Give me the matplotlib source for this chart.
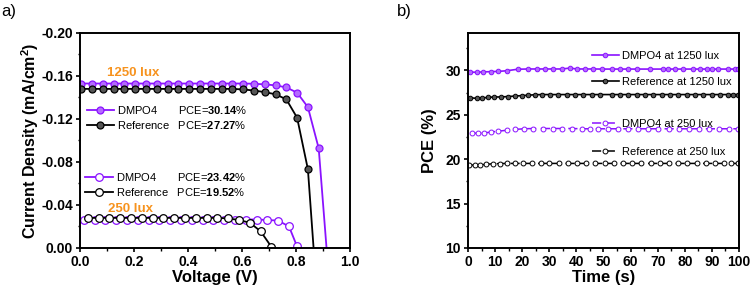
import matplotlib
matplotlib.use("Agg")
import matplotlib.pyplot as plt
from matplotlib.ticker import MultipleLocator

plt.rcParams['font.family'] = ['Liberation Sans', 'DejaVu Sans']
plt.rcParams['mathtext.fontset'] = 'custom'
plt.rcParams['mathtext.rm'] = 'Liberation Sans'
plt.rcParams['mathtext.bf'] = 'Liberation Sans:bold'
plt.rcParams['mathtext.it'] = 'Liberation Sans:italic'
plt.rcParams['axes.unicode_minus'] = False

PURPLE = '#8A12FF'
ORANGE = '#F7931E'

# ---- panel a: J-V curves ----
v_dmpo_1250 = [0.004, 0.044, 0.084, 0.124, 0.164, 0.204, 0.244, 0.284, 0.324, 0.364, 0.404, 0.444,
               0.484, 0.524, 0.564, 0.604, 0.644, 0.684, 0.724, 0.764, 0.804, 0.844, 0.884, 0.913]
j_dmpo_1250 = [-0.153, -0.153, -0.153, -0.153, -0.153, -0.153, -0.153, -0.153, -0.153, -0.153, -0.153, -0.153,
               -0.153, -0.153, -0.153, -0.153, -0.1528, -0.1522, -0.1513, -0.1494, -0.1445, -0.131, -0.0927, 0.0]
v_ref_1250 = [0.004, 0.044, 0.084, 0.124, 0.164, 0.204, 0.244, 0.284, 0.324, 0.364, 0.404, 0.444,
              0.484, 0.524, 0.564, 0.604, 0.644, 0.684, 0.724, 0.764, 0.804, 0.844, 0.865]
j_ref_1250 = [-0.148, -0.148, -0.148, -0.148, -0.148, -0.148, -0.148, -0.148, -0.148, -0.148, -0.148, -0.148,
              -0.148, -0.148, -0.148, -0.1475, -0.1465, -0.145, -0.143, -0.1383, -0.1212, -0.0732, 0.0]
v_dmpo_250 = [0.014, 0.054, 0.094, 0.134, 0.174, 0.214, 0.254, 0.294, 0.334, 0.374, 0.414, 0.454,
              0.494, 0.534, 0.574, 0.614, 0.654, 0.694, 0.734, 0.774, 0.803]
j_dmpo_250 = [-0.0265, -0.0265, -0.0265, -0.0265, -0.0265, -0.0265, -0.0265, -0.0265, -0.0265, -0.0265,
              -0.0265, -0.0265, -0.0265, -0.0265, -0.0265, -0.0265, -0.0265, -0.026, -0.0255, -0.020, -0.002]
v_ref_250 = [0.029, 0.069, 0.109, 0.149, 0.189, 0.229, 0.269, 0.309, 0.349, 0.389, 0.429, 0.469,
             0.509, 0.549, 0.589, 0.629, 0.669, 0.709]
j_ref_250 = [-0.028, -0.028, -0.028, -0.028, -0.028, -0.028, -0.028, -0.028, -0.028, -0.028, -0.028, -0.028,
             -0.028, -0.0275, -0.026, -0.0235, -0.0155, -0.001]

pce_a = ['30.14', '27.27', '23.42', '19.52']

# ---- panel b: PCE stability ----
t_dmpo_1250 = [0.7, 3.2, 5.6, 8.5, 11.2, 14.3, 18.3, 22.3, 25.3, 28.4, 31.4, 34.6, 37.6, 40.2, 43.0, 46.3, 49.4,
               53.0, 56.1, 59.2, 62.2, 67.2, 72.1, 73.9, 76.4, 79.4, 83.1, 85.6, 88.1, 89.9, 92.4, 96.1, 98.6, 99.6]
p_dmpo_1250 = [29.8, 29.78, 29.82, 29.85, 29.88, 29.95, 30.12, 30.15, 30.15, 30.15, 30.15, 30.15, 30.25, 30.15,
               30.15, 30.15, 30.14, 30.14, 30.14, 30.14, 30.14, 30.14, 30.14, 30.14, 30.14, 30.14, 30.14, 30.14,
               30.14, 30.14, 30.14, 30.14, 30.14, 30.14]
t_ref_1250 = [0.7, 3.2, 5.1, 7.3, 9.7, 12.2, 14.9, 17.3, 19.8, 22.3, 24.7, 27.4, 30.3, 33.3, 36.4, 39.5, 42.5,
              45.6, 48.7, 53.0, 56.1, 59.2, 62.2, 65.3, 68.4, 71.5, 74.5, 77.6, 80.7, 83.8, 86.8, 89.9, 93.0,
              96.1, 97.9, 99.7]
p_ref_1250 = [26.9, 26.85, 26.88, 26.95, 27.0, 27.0, 27.05, 27.1, 27.15, 27.2, 27.25, 27.27, 27.27, 27.27, 27.27,
              27.27, 27.27, 27.27, 27.27, 27.27, 27.27, 27.27, 27.27, 27.27, 27.27, 27.27, 27.27, 27.27, 27.27,
              27.27, 27.27, 27.27, 27.27, 27.27, 27.27, 27.27]
t_dmpo_250 = [1.6, 3.8, 6.0, 8.5, 11.2, 14.3, 17.3, 20.8, 24.1, 27.8, 31.5, 34.6, 38.3, 42.0, 45.0, 48.1,
              51.8, 55.5, 59.2, 62.9, 66.6, 70.3, 74.0, 77.7, 81.4, 85.1, 88.8, 92.5, 96.2, 99.6]
p_dmpo_250 = [22.95, 22.9, 22.95, 23.05, 23.15, 23.25, 23.35, 23.42, 23.45, 23.45, 23.45, 23.45, 23.45, 23.42,
              23.42, 23.42, 23.42, 23.42, 23.42, 23.42, 23.42, 23.42, 23.42, 23.42, 23.42, 23.42, 23.42, 23.42,
              23.42, 23.42]
t_ref_250 = [0.5, 2.5, 4.6, 6.8, 9.3, 11.8, 14.3, 17.3, 20.3, 23.5, 26.8, 30.0, 33.4, 36.8, 40.2, 43.6, 47.0,
             50.4, 53.8, 57.2, 60.6, 64.0, 67.4, 70.8, 74.2, 77.6, 81.0, 84.4, 87.8, 91.2, 94.6, 97.0, 99.5]
p_ref_250 = [19.35, 19.32, 19.35, 19.42, 19.48, 19.5, 19.52, 19.52, 19.52, 19.52, 19.52, 19.52, 19.52, 19.52,
             19.52, 19.52, 19.52, 19.52, 19.52, 19.52, 19.52, 19.52, 19.52, 19.52, 19.52, 19.52, 19.52, 19.52,
             19.52, 19.52, 19.52, 19.52, 19.52]


fig = plt.figure(figsize=(7.5, 2.91), dpi=100)
ax1 = fig.add_axes([0.1067, 0.1478, 0.3600, 0.7388])
ax2 = fig.add_axes([0.6240, 0.1478, 0.3613, 0.7388])


def style_axes(ax):
    for s in ax.spines.values():
        s.set_linewidth(1.4)
    ax.tick_params(which='major', direction='out', length=3, width=1.2, labelsize=10, pad=2)
    ax.tick_params(which='minor', direction='out', length=1.8, width=1.0)
    for lab in ax.get_xticklabels() + ax.get_yticklabels():
        lab.set_fontweight('bold')


# panel a
l1, = ax1.plot(v_dmpo_1250, j_dmpo_1250, '-o', color=PURPLE, lw=1.3, ms=5, mfc='#B46BFF', mec=PURPLE,
               mew=0.9, markevery=list(range(len(v_dmpo_1250) - 1)))
l2, = ax1.plot(v_ref_1250, j_ref_1250, '-o', color='black', lw=1.3, ms=5, mfc='#555555', mec='black',
               mew=0.9, markevery=list(range(len(v_ref_1250) - 1)))
l3, = ax1.plot(v_dmpo_250, j_dmpo_250, '-o', color=PURPLE, lw=1.3, ms=5.5, mfc='white', mec=PURPLE, mew=0.9)
l4, = ax1.plot(v_ref_250, j_ref_250, '-o', color='black', lw=1.3, ms=5.5, mfc='white', mec='black', mew=0.9)

ax1.set_xlim(0, 1.0)
ax1.set_ylim(0, -0.20)
ax1.xaxis.set_minor_locator(MultipleLocator(0.1))
ax1.yaxis.set_minor_locator(MultipleLocator(0.02))
ax1.set_yticks([0.0, -0.04, -0.08, -0.12, -0.16, -0.20])
ax1.set_yticklabels(['0.00', '-0.04', '-0.08', '-0.12', '-0.16', '-0.20'])
ax1.set_xticks([0.0, 0.2, 0.4, 0.6, 0.8, 1.0])
ax1.set_xticklabels(['0.0', '0.2', '0.4', '0.6', '0.8', '1.0'])
style_axes(ax1)
ax1.set_xlabel('Voltage (V)', fontsize=12, fontweight='bold', labelpad=1)
ax1.set_ylabel('Current Density (mA/cm$^\\mathbf{2}$)', fontsize=11.5, fontweight='bold', labelpad=0)

lab_a = ['DMPO4' + ' ' * 7 + 'PCE=$\\mathbf{%s}$%%' % pce_a[0],
         'Reference' + ' ' * 3 + 'PCE=$\\mathbf{%s}$%%' % pce_a[1],
         'DMPO4' + ' ' * 7 + 'PCE=$\\mathbf{%s}$%%' % pce_a[2],
         'Reference' + ' ' * 3 + 'PCE=$\\mathbf{%s}$%%' % pce_a[3]]
leg_kw = dict(frameon=False, fontsize=8, numpoints=1, handlelength=2.5, handletextpad=0.25,
              borderpad=0, borderaxespad=0, loc='center left')
lega = ax1.legend([l1, l2], lab_a[:2], bbox_to_anchor=(0.024, 0.608), labelspacing=0.3, **leg_kw)
ax1.add_artist(lega)
ax1.legend([l3, l4], lab_a[2:], bbox_to_anchor=(0.020, 0.295), labelspacing=0.3, **leg_kw)

ax1.text(0.10, -0.163, '1250 lux', color=ORANGE, fontsize=9.5, fontweight='bold', ha='left', va='center')
ax1.text(0.104, -0.0363, '250 lux', color=ORANGE, fontsize=9.5, fontweight='bold', ha='left', va='center')

# panel b
m1, = ax2.plot(t_dmpo_1250, p_dmpo_1250, '-o', color=PURPLE, lw=1.2, ms=3.3, mfc='#B46BFF', mec=PURPLE, mew=0.7)
m2, = ax2.plot(t_ref_1250, p_ref_1250, '-o', color='black', lw=1.2, ms=3.3, mfc='#555555', mec='black', mew=0.7)
m3, = ax2.plot(t_dmpo_250, p_dmpo_250, 'o', color=PURPLE, ls=(0, (6, 3)), lw=1.1, ms=3.5, mfc='white',
               mec=PURPLE, mew=0.7)
m4, = ax2.plot(t_ref_250, p_ref_250, 'o', color='black', ls=(0, (6, 3)), lw=1.1, ms=3.5, mfc='white',
               mec='black', mew=0.7)

ax2.set_xlim(0, 100)
ax2.set_ylim(10, 34.2)
ax2.xaxis.set_major_locator(MultipleLocator(10))
ax2.xaxis.set_minor_locator(MultipleLocator(5))
ax2.yaxis.set_major_locator(MultipleLocator(5))
ax2.yaxis.set_minor_locator(MultipleLocator(2.5))
style_axes(ax2)
ax2.set_xlabel('Time (s)', fontsize=12, fontweight='bold', labelpad=1)
ax2.set_ylabel('PCE (%)', fontsize=12, fontweight='bold', labelpad=6)

leg_kw_b = dict(frameon=False, fontsize=8, numpoints=1, handlelength=2.4, handletextpad=0.3,
                borderpad=0, borderaxespad=0, loc='center left')
legb = ax2.legend([m1, m2], ['DMPO4 at 1250 lux', 'Reference at 1250 lux'],
                  bbox_to_anchor=(0.4576, 0.833), labelspacing=1.48, **leg_kw_b)
ax2.add_artist(legb)
ax2.legend([m3, m4], ['DMPO4 at 250 lux', 'Reference at 250 lux'],
           bbox_to_anchor=(0.4576, 0.512), labelspacing=1.55, **leg_kw_b)

fig.text(0.001, 0.96, 'a)', fontsize=12, ha='left', va='center')
fig.text(0.529, 0.96, 'b)', fontsize=12, ha='left', va='center')

fig.savefig('out.png', dpi=100)
